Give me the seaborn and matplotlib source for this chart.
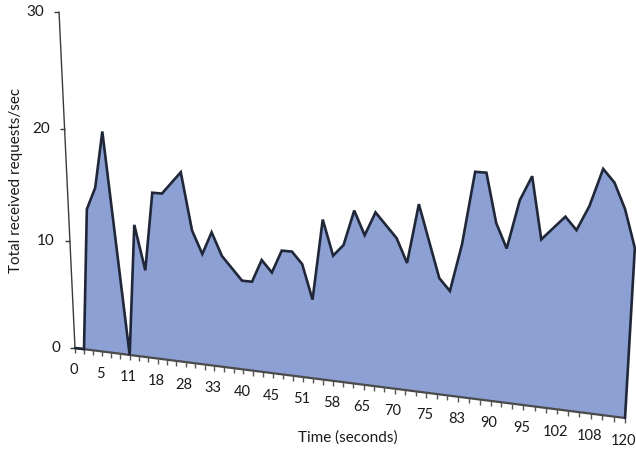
import numpy as np
import pandas as pd
import matplotlib
matplotlib.use("Agg")
import matplotlib.pyplot as plt
import seaborn as sns
from matplotlib.transforms import Transform, Affine2D
from matplotlib.path import Path

# ---------------- data ----------------
category_index = list(range(55))
requests = [0, 0, 13, 15, 20, 10, 0, 12, 8, 15,
            15, 16, 17, 12, 10, 12, 10, 9, 8, 8,
            10, 9, 11, 11, 10, 7, 14, 11, 12, 15,
            13, 15, 14, 13, 11, 16, 13, 10, 9, 13,
            19, 19, 15, 13, 17, 19, 14, 15, 16, 15,
            17, 20, 19, 17, 14]
tick_labels = ["0", "5", "11", "18", "28", "33", "40", "45", "51", "58",
               "65", "70", "75", "83", "90", "95", "102", "108", "120"]
label_every = 3
y_ticks = [0, 10, 20, 30]
y_max = 30

# ---------------- style ----------------
sns.set_theme(style="white")
plt.rcParams["font.family"] = ["Lato", "DejaVu Sans"]

W, H = 636, 453
n_last = category_index[-1]

# perspective (3-D look) transform: data -> image pixels (y down)
M = np.array([[476.9 / n_last, -19.5 / y_max, 75.0],
              [21.1 / n_last, -336.7 / y_max, 348.0],
              [-0.117 / n_last, -0.06 / y_max, 1.0]])


class Perspective(Transform):
    input_dims = 2
    output_dims = 2
    is_separable = False
    has_inverse = False

    def __init__(self, mat):
        super().__init__()
        self.mat = np.asarray(mat, float)

    def transform_non_affine(self, values):
        v = np.asarray(values, float).reshape(-1, 2)
        h = np.column_stack([v, np.ones(len(v))]) @ self.mat.T
        return h[:, :2] / h[:, 2:3]

    def transform_path_non_affine(self, path):
        return Path(self.transform_non_affine(path.vertices), path.codes)


fig = plt.figure(figsize=(W / 100, H / 100), dpi=100)
ax = fig.add_axes([0, 0, 1, 1])
ax.set_axis_off()

pix2fig = Affine2D().scale(1 / W, -1 / H).translate(0, 1) + fig.transFigure
persp = Perspective(M)
T = persp + pix2fig


def shifted(dx, dy):
    return persp + Affine2D().translate(dx, dy) + pix2fig


df = pd.DataFrame({"cat": category_index, "req": requests})

# area
ax.fill_between(df["cat"], df["req"], 0, color="#8da0d4", lw=0,
                transform=T, clip_on=False, zorder=2)

# floor line + category ticks
ax.plot([category_index[0], n_last], [0, 0], color="#4a4a4a", lw=1.6,
        transform=T, clip_on=False, zorder=3)
ax.plot(df["cat"], np.zeros(len(df)), ls="none",
        marker=Path([(0, 0), (0, -1)]), ms=7, mew=1.0, color="#555555",
        transform=T, clip_on=False, zorder=3)
for k, lab in enumerate(tick_labels):
    ax.text(category_index[k * label_every], 0, lab,
            transform=shifted(-1.5, 22.5),
            ha="center", va="center", fontsize=10.5, color="#1a1a1a")

# top edge of the area (seaborn line)
edge = pd.DataFrame({"cat": category_index + [n_last],
                     "req": requests + [0]})
sns.lineplot(data=edge, x="cat", y="req", ax=ax, sort=False, estimator=None,
             color="#1f2738", lw=1.9, zorder=4)
line = ax.lines[-1]
line.set_transform(T)
line.set_clip_on(False)
line.set_solid_joinstyle("miter")

# value axis
ax.plot([0, 0], [0, y_max], color="#3a3a3a", lw=1.0, transform=T,
        clip_on=False, zorder=3)
ax.plot([0] * len(y_ticks), y_ticks, ls="none",
        marker=Path([(-1, 0), (0, 0)]), ms=7, mew=1.0, color="#3a3a3a",
        transform=T, clip_on=False, zorder=3)
for v in y_ticks:
    ax.text(0, v, str(v), transform=shifted(-15, 0), ha="right", va="center",
            fontsize=11, color="#1a1a1a")

# axis titles
fig.text(16 / W, 1 - 180 / H, "Total received requests/sec", rotation=90,
         ha="center", va="center", fontsize=11, color="#1a1a1a")
fig.text(348 / W, 1 - 438 / H, "Time (seconds)", ha="center", va="center",
         fontsize=11, color="#1a1a1a")

ax.set_xlim(0, 1)
ax.set_ylim(0, 1)
fig.savefig("out.png", dpi=100)
